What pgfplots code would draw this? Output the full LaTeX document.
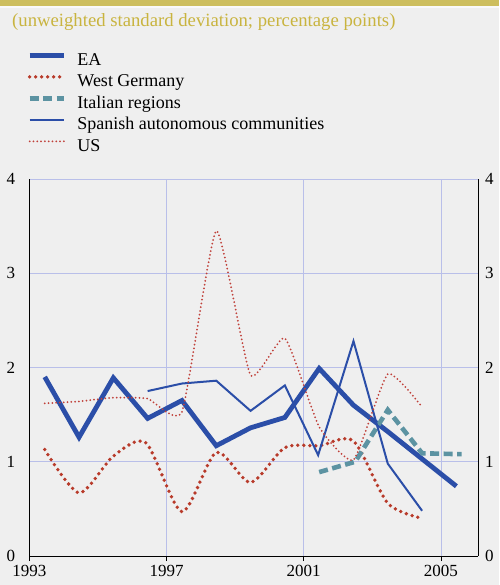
\documentclass[border=0pt]{standalone}
\usepackage{fontspec}
\setmainfont{Liberation Serif}
\usepackage{pgfplots}
\pgfplotsset{compat=1.18}
\definecolor{bgc}{HTML}{EFEFEF}
\definecolor{barc}{HTML}{CDBE5E}
\definecolor{titlec}{HTML}{C9B43F}
\definecolor{gridc}{HTML}{B9BFE9}
\definecolor{eablue}{HTML}{2B4EA8}
\definecolor{wgred}{HTML}{B83A2A}
\definecolor{usred}{HTML}{C0413A}
\definecolor{itteal}{HTML}{5C93A2}
\begin{document}
\begin{tikzpicture}[font=\fontsize{17}{20}\selectfont]
\fill[bgc,use as bounding box] (0,0) rectangle (499pt,585pt);
\fill[barc] (0,579.3pt) rectangle (499pt,585pt);
\fill[white!60!bgc] (0,577pt) rectangle (499pt,579.3pt);
\node[anchor=base west, text=titlec, inner sep=0pt, font=\fontsize{18.7}{22}\selectfont] at (12pt,558.3pt) {(unweighted standard deviation; percentage points)};
\pgfplotsset{common/.style={
  at={(29.3pt,29pt)}, anchor=south west, scale only axis,
  width=448.7pt, height=377pt,
  xmin=1993, xmax=2006.08, ymin=0, ymax=4,
  ytick={0,1,2,3,4},
  /pgf/number format/assume math mode=true,
  tick label style={font=\fontsize{17}{20}\selectfont},
}}
\begin{axis}[common,
  xtick={1993,1997,2001,2005},
  x tick label style={/pgf/number format/1000 sep={}, inner sep=0pt, yshift=-4pt},
  y tick label style={inner sep=0pt, xshift=-9pt},
  grid=major, major grid style={draw=gridc, line width=0.9pt},
  axis x line*=bottom, axis y line*=left,
  axis line style={line width=0.9pt, black},
  tick align=outside, major tick length=5pt,
  x tick style={draw=black, line width=0.9pt},
  y tick style={draw=none},
  legend style={at={(-0.005,1.335)}, anchor=north west, draw=none, fill=none,
    inner sep=0pt, row sep=5pt, font=\fontsize{18}{21}\selectfont,
    nodes={inner sep=0pt, text height=12.5pt, text depth=4pt},
    /tikz/column sep=11pt},
  legend cell align=left,
  legend image code/.code={\draw[#1] (-2pt,5.8pt) -- (32.4pt,5.8pt);},
]
\addplot[eablue, line width=4.8pt, miter limit=20] coordinates {
(1993.45,1.90) (1994.45,1.26) (1995.45,1.89) (1996.45,1.46) (1997.45,1.65)
(1998.45,1.17) (1999.45,1.36) (2000.45,1.47) (2001.45,1.99) (2002.45,1.60)
(2003.45,1.32) (2004.45,1.03) (2005.45,0.74)};
\addlegendentry{EA}
\addplot[wgred, line width=3.8pt, line cap=round, dash pattern=on 0pt off 6pt, smooth, tension=0.45] coordinates {
(1993.45,1.13) (1994.45,0.67) (1995.45,1.06) (1996.4,1.20) (1997.45,0.47)
(1998.45,1.10) (1999.45,0.78) (2000.45,1.15) (2001.45,1.17) (2002.45,1.22)
(2003.45,0.56) (2004.45,0.40)};
\addlegendentry{West Germany}
\addplot[itteal, line width=4.6pt, dash pattern=on 9pt off 4.5pt] coordinates {
(2001.45,0.89) (2002.5,1.00) (2003.45,1.55) (2004.45,1.09) (2005.6,1.08)};
\addlegendentry{Italian regions}
\addplot[eablue, line width=2pt] coordinates {
(1996.45,1.75) (1997.45,1.83) (1998.45,1.86) (1999.45,1.54) (2000.45,1.81)
(2001.42,1.07) (2002.45,2.28) (2003.45,0.98) (2004.45,0.48)};
\addlegendentry{Spanish autonomous communities}
\addplot[usred, line width=2pt, line cap=round, dash pattern=on 0pt off 3.8pt, smooth, tension=0.3] coordinates {
(1993.45,1.62) (1994.45,1.64) (1995.45,1.68) (1996.45,1.67) (1997.45,1.53)
(1998.45,3.45) (1999.45,1.92) (2000.45,2.31) (2001.45,1.37) (2002.45,1.02)
(2003.45,1.93) (2004.45,1.58)};
\addlegendentry{US}
\end{axis}
\begin{axis}[common,
  xtick=\empty, axis x line=none, axis y line*=right,
  yticklabel pos=right,
  y tick label style={inner sep=0pt, xshift=7pt},
  axis line style={line width=0.9pt, black},
  y tick style={draw=none},
]
\addplot[draw=none] coordinates {(1993,0)};
\end{axis}
\end{tikzpicture}
\end{document}
